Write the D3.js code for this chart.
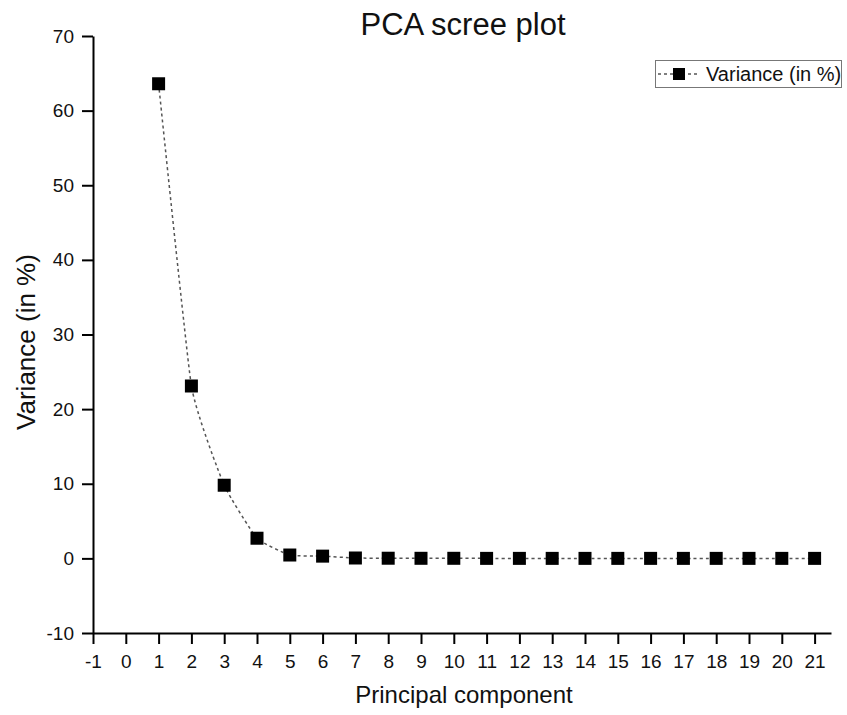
<!DOCTYPE html>
<html><head><meta charset="utf-8">
<script src="https://cdn.jsdelivr.net/npm/d3@7"></script>
<style>body{margin:0;background:#fff;} text{font-family:"Liberation Sans",Arial,sans-serif;}</style>
</head><body>
<svg id="c" width="847" height="715"></svg>
<script>
const components = [1,2,3,4,5,6,7,8,9,10,11,12,13,14,15,16,17,18,19,20,21];
const variance = [63.6,23.1,9.8,2.7,0.45,0.3,0.05,0.02,0.01,0.01,0,0,0,0,0,0,0,0,0,0,0];
const xTicks = [-1,0,1,2,3,4,5,6,7,8,9,10,11,12,13,14,15,16,17,18,19,20,21];
const yTicks = [-10,0,10,20,30,40,50,60,70];
const seriesName = "Variance (in %)";

const svg = d3.select("#c");
const x = d3.scaleLinear().domain([-1,21.5]).range([93,831]);
const y = d3.scaleLinear().domain([-10,70]).range([633,36]);
const fmt = d => String(d);

const xa = svg.append("g").attr("transform","translate(0,633)")
  .call(d3.axisBottom(x).tickValues(xTicks).tickFormat(fmt).tickSize(11).tickSizeOuter(0));
const ya = svg.append("g").attr("transform","translate(93,0)")
  .call(d3.axisLeft(y).tickValues(yTicks).tickFormat(fmt).tickSize(11).tickSizeOuter(0));
[xa,ya].forEach(a=>{
  a.selectAll("path,line").attr("stroke","#000").attr("stroke-width",2);
  a.selectAll("text").attr("font-size",19).attr("fill","#111");
});
xa.selectAll("text").attr("y",22).attr("dy","0.71em");
ya.selectAll("text").attr("x",-19);

const line = d3.line().x((d,i)=>x(components[i])).y(d=>y(d)).curve(d3.curveCardinal.tension(0.6));
svg.append("path").attr("d",line(variance)).attr("fill","none")
  .attr("stroke","#555").attr("stroke-width",1.5).attr("stroke-dasharray","3,3");

svg.append("g").selectAll("rect").data(variance).join("rect")
  .attr("x",(d,i)=>x(components[i])-6.5).attr("y",d=>y(d)-6.5)
  .attr("width",13).attr("height",13).attr("fill","#000");

svg.append("text").attr("x",463).attr("y",35).attr("text-anchor","middle")
  .attr("font-size",31).attr("fill","#111").text("PCA scree plot");
svg.append("text").attr("x",464).attr("y",703).attr("text-anchor","middle")
  .attr("font-size",24).attr("fill","#111").text("Principal component");
svg.append("text").attr("transform","translate(35,342) rotate(-90)").attr("text-anchor","middle")
  .attr("font-size",26).attr("fill","#111").text("Variance (in %)");

const lg = svg.append("g");
lg.append("rect").attr("x",655.5).attr("y",60.5).attr("width",186).attr("height",27)
  .attr("fill","#fff").attr("stroke","#777").attr("stroke-width",1);
lg.append("line").attr("x1",658).attr("x2",700).attr("y1",74).attr("y2",74)
  .attr("stroke","#555").attr("stroke-width",1.5).attr("stroke-dasharray","3,3");
lg.append("rect").attr("x",673).attr("y",68).attr("width",12).attr("height",12).attr("fill","#000");
lg.append("text").attr("x",706).attr("y",81).attr("font-size",20).attr("fill","#111").text(seriesName);
</script>
</body></html>
